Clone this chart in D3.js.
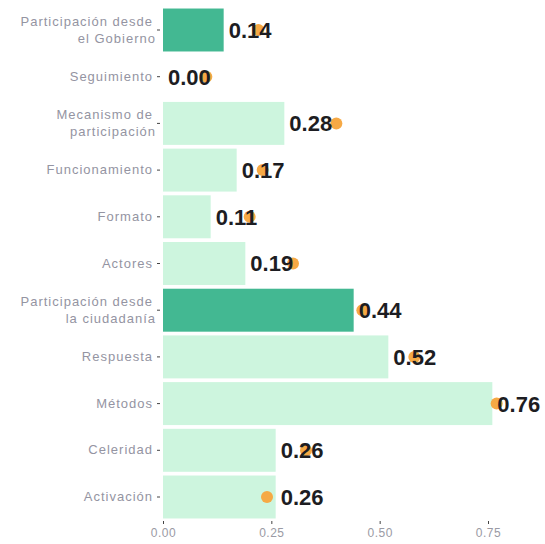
<!DOCTYPE html>
<html>
<head>
<meta charset="utf-8">
<script src="https://cdn.jsdelivr.net/npm/d3@7"></script>
<style>
  body { margin: 0; background: #fff; }
  .axis text { font-family: "Liberation Sans", Arial, sans-serif; }
</style>
</head>
<body>
<div class="mainCont"></div>
<script>
// data
var categories = [
    "Participación desde\nel Gobierno",
    "Seguimiento",
    "Mecanismo de\nparticipación",
    "Funcionamiento",
    "Formato",
    "Actores",
    "Participación desde\nla ciudadanía",
    "Respuesta",
    "Métodos",
    "Celeridad",
    "Activación"
];
var values = [0.14, 0.00, 0.28, 0.17, 0.11, 0.19, 0.44, 0.52, 0.76, 0.26, 0.26];
var points = [0.22, 0.10, 0.40, 0.23, 0.20, 0.30, 0.46, 0.58, 0.77, 0.33, 0.24];
var groups = ["head", "item", "item", "item", "item", "item", "head", "item", "item", "item", "item"];
var xTicks = [0, 0.25, 0.5, 0.75];

var width = 545,
    height = 544;

var color = d3.scaleOrdinal()
    .domain(["head", "item"])
    .range(["#43b892", "#cdf5de"]);

var svg = d3.select(".mainCont").append("svg")
    .attr("width", width)
    .attr("height", height);

// scales
var x = d3.scaleLinear()
    .domain([0, 0.75])
    .range([163, 488]);

var y = d3.scaleBand()
    .domain(categories)
    .range([6.65, 520.35])
    .paddingInner(0.08)
    .paddingOuter(0.04);

// bars
svg.selectAll(".bar")
    .data(values)
    .enter().append("rect")
    .attr("class", "bar")
    .attr("x", x(0))
    .attr("y", function(d, i) { return y(categories[i]); })
    .attr("width", function(d) { return x(d) - x(0); })
    .attr("height", y.bandwidth())
    .style("fill", function(d, i) { return color(groups[i]); });

// orange points (under the labels)
svg.selectAll(".pt")
    .data(points)
    .enter().append("circle")
    .attr("class", "pt")
    .attr("cx", function(d) { return x(d); })
    .attr("cy", function(d, i) { return y(categories[i]) + y.bandwidth() / 2; })
    .attr("r", 6)
    .style("fill", "#f6a945");

// value labels
svg.selectAll(".val")
    .data(values)
    .enter().append("text")
    .attr("class", "val")
    .attr("x", function(d) { return x(d) + 5; })
    .attr("y", function(d, i) { return y(categories[i]) + y.bandwidth() / 2; })
    .attr("dy", "0.36em")
    .style("font-family", "'Liberation Sans', Arial, sans-serif")
    .style("font-weight", "bold")
    .style("font-size", "22px")
    .style("fill", "#1d1d22")
    .text(function(d) { return d.toFixed(2); });

// x axis
var xAxis = svg.append("g")
    .attr("class", "axis")
    .attr("transform", "translate(0,521)")
    .call(d3.axisBottom(x).tickValues(xTicks).tickFormat(d3.format(".2f")).tickSize(3).tickPadding(4));
xAxis.select(".domain").remove();
xAxis.selectAll("line").style("stroke", "#444");
xAxis.selectAll("text").style("fill", "#9a9aa4").style("font-size", "12px").style("letter-spacing", "0.5px");

// y axis
var yAxis = svg.append("g")
    .attr("class", "axis")
    .attr("transform", "translate(" + x(0) + ",0)")
    .call(d3.axisLeft(y).tickSize(3).tickPadding(4).tickSizeOuter(0));
yAxis.select(".domain").remove();
yAxis.selectAll("line").style("stroke", "#444").attr("transform", "translate(-3,0)");
yAxis.selectAll("text")
    .style("fill", "#9494a2")
    .style("font-size", "13px")
    .style("letter-spacing", "1px")
    .attr("dx", "-3")
    .each(function(d) {
        var lines = d.split("\n");
        var t = d3.select(this).text(null);
        var x0 = t.attr("x");
        lines.forEach(function(l, k) {
            t.append("tspan")
                .attr("x", x0)
                .attr("dy", k === 0 ? (0.32 - (lines.length - 1) * 0.65) + "em" : "1.3em")
                .text(l);
        });
    })
    .attr("dy", null);
</script>
</body>
</html>
